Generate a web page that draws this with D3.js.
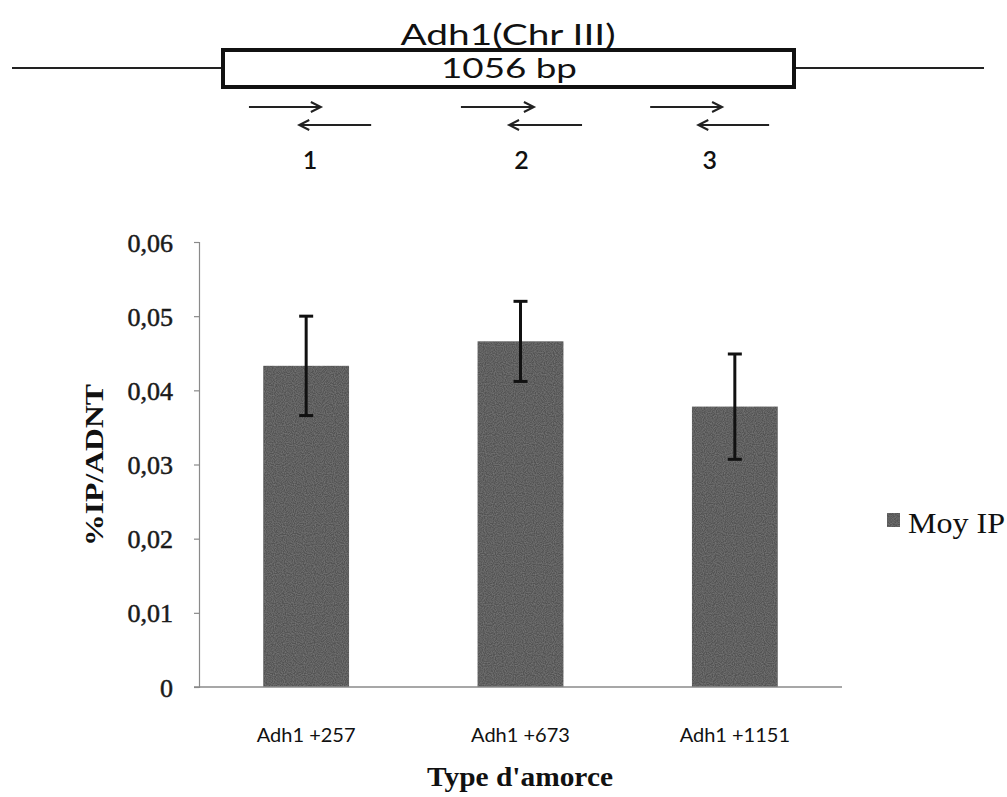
<!DOCTYPE html>
<html>
<head>
<meta charset="utf-8">
<script src="https://cdn.jsdelivr.net/npm/d3@7"></script>
<style>
  html, body { margin: 0; padding: 0; background: #fff; }
  svg { display: block; }
</style>
</head>
<body>
<svg id="chart" width="1007" height="797"></svg>
<script>
// ---- data ----
const categories = ["Adh1 +257", "Adh1 +673", "Adh1 +1151"];
const meanIP = [0.0433, 0.0466, 0.0378];
const errIP = [0.0067, 0.0054, 0.0071];
const yTicks = [0, 0.01, 0.02, 0.03, 0.04, 0.05, 0.06];
const yTickLabels = ["0", "0,01", "0,02", "0,03", "0,04", "0,05", "0,06"];
const seriesName = "Moy IP";
const yTitle = "%IP/ADNT";
const xTitle = "Type d'amorce";
// gene diagram (positions in bp along the gene)
const geneName = "Adh1(Chr III)";
const geneLength = 1056;
const geneLabel = "1056 bp";
const primerLabels = ["1", "2", "3"];
const fwdStart = [48, 440, 790];
const fwdEnd = [181, 575, 923];
const revStart = [141, 529, 879];
const revEnd = [274, 664, 1010];

const svg = d3.select("#chart");
const serif = "'Liberation Serif', 'Times New Roman', serif";
const sans = "Lato, 'Open Sans', sans-serif";
const barColor = "#525252";

// speckled texture like the scanned bars
const defs = svg.append("defs");
const f = defs.append("filter").attr("id", "speckle").attr("x", 0).attr("y", 0).attr("width", 1).attr("height", 1);
f.append("feTurbulence").attr("type", "fractalNoise").attr("baseFrequency", 0.9).attr("numOctaves", 1).attr("seed", 3).attr("result", "noise");
f.append("feColorMatrix").attr("in", "noise").attr("type", "matrix")
  .attr("values", "0 0 0 0 0.2  0 0 0 0 0.2  0 0 0 0 0.2  0 0 0 -1.6 1.1").attr("result", "dark");
f.append("feComposite").attr("in", "dark").attr("in2", "SourceGraphic").attr("operator", "in").attr("result", "darkIn");
f.append("feMerge").selectAll("feMergeNode").data(["SourceGraphic", "darkIn"]).join("feMergeNode").attr("in", d => d);

// ---- gene diagram ----
const gx = d3.scaleLinear().domain([0, geneLength]).range([223, 794]);
const diagram = svg.append("g");
diagram.append("line").attr("x1", 12).attr("x2", gx(0)).attr("y1", 68).attr("y2", 68)
  .attr("stroke", "#222").attr("stroke-width", 2);
diagram.append("line").attr("x1", gx(geneLength)).attr("x2", 984).attr("y1", 68).attr("y2", 68)
  .attr("stroke", "#222").attr("stroke-width", 2);
diagram.append("rect").attr("x", gx(0)).attr("y", 50).attr("width", gx(geneLength) - gx(0)).attr("height", 37)
  .attr("fill", "#fff").attr("stroke", "#111").attr("stroke-width", 4);
diagram.append("text").attr("x", 508).attr("y", 45).attr("text-anchor", "middle")
  .attr("font-family", sans).attr("font-size", 29).attr("fill", "#111")
  .attr("textLength", 215).attr("lengthAdjust", "spacingAndGlyphs").text(geneName);
diagram.append("text").attr("x", 509).attr("y", 78).attr("text-anchor", "middle")
  .attr("font-family", sans).attr("font-size", 27).attr("fill", "#111")
  .attr("textLength", 136).attr("lengthAdjust", "spacingAndGlyphs").text(geneLabel);

function arrow(x1, x2, yy) {
  const dir = x2 > x1 ? 1 : -1;
  diagram.append("line").attr("x1", x1).attr("x2", x2).attr("y1", yy).attr("y2", yy)
    .attr("stroke", "#222").attr("stroke-width", 2);
  diagram.append("path")
    .attr("d", `M${x2 - dir * 10},${yy - 5} L${x2},${yy} L${x2 - dir * 10},${yy + 5}`)
    .attr("fill", "none").attr("stroke", "#222").attr("stroke-width", 2);
}
primerLabels.forEach((lab, i) => {
  arrow(gx(fwdStart[i]), gx(fwdEnd[i]), 107);
  arrow(gx(revEnd[i]), gx(revStart[i]), 125);
  diagram.append("text").attr("x", (gx(fwdStart[i]) + gx(revEnd[i])) / 2).attr("y", 169)
    .attr("text-anchor", "middle").attr("font-family", sans).attr("font-size", 25)
    .attr("font-weight", 600).attr("fill", "#111").text(lab);
});

// ---- bar chart ----
const x = d3.scaleBand().domain(categories).range([199, 842]).paddingInner(0.6).paddingOuter(0.3);
const y = d3.scaleLinear().domain([0, 0.06]).range([687, 242]);

const chart = svg.append("g");
// y axis
const yAxis = chart.append("g").attr("transform", "translate(199,0)")
  .call(d3.axisLeft(y).tickValues(yTicks).tickSize(5).tickPadding(21)
    .tickFormat((d, i) => yTickLabels[i]));
yAxis.select(".domain").attr("stroke", "#8a8a8a").attr("stroke-width", 1.2);
yAxis.selectAll(".tick line").attr("stroke", "#8a8a8a").attr("stroke-width", 1.2);
yAxis.selectAll(".tick text").attr("font-family", serif).attr("font-size", 26)
  .attr("fill", "#1a1a1a").attr("stroke", "#1a1a1a").attr("stroke-width", 0.5).attr("dy", "0.35em");

// bars
chart.selectAll("rect.bar").data(categories).join("rect").attr("class", "bar")
  .attr("x", d => x(d)).attr("width", x.bandwidth())
  .attr("y", (d, i) => y(meanIP[i])).attr("height", (d, i) => y(0) - y(meanIP[i]))
  .attr("fill", barColor).attr("filter", "url(#speckle)");

// x axis line
chart.append("line").attr("x1", 194).attr("x2", 842).attr("y1", y(0)).attr("y2", y(0))
  .attr("stroke", "#8a8a8a").attr("stroke-width", 1.5);

// error bars
const eb = chart.selectAll("g.err").data(categories).join("g").attr("class", "err");
eb.append("line")
  .attr("x1", d => x(d) + x.bandwidth() / 2).attr("x2", d => x(d) + x.bandwidth() / 2)
  .attr("y1", (d, i) => y(meanIP[i] + errIP[i])).attr("y2", (d, i) => y(meanIP[i] - errIP[i]))
  .attr("stroke", "#111").attr("stroke-width", 3);
[1, -1].forEach(s => {
  eb.append("line")
    .attr("x1", d => x(d) + x.bandwidth() / 2 - 7).attr("x2", d => x(d) + x.bandwidth() / 2 + 7)
    .attr("y1", (d, i) => y(meanIP[i] + s * errIP[i])).attr("y2", (d, i) => y(meanIP[i] + s * errIP[i]))
    .attr("stroke", "#111").attr("stroke-width", 3);
});

// category labels
chart.selectAll("text.cat").data(categories).join("text").attr("class", "cat")
  .attr("x", d => x(d) + x.bandwidth() / 2).attr("y", 742).attr("text-anchor", "middle")
  .attr("font-family", sans).attr("font-size", 20).attr("fill", "#111").text(d => d);

// axis titles
chart.append("text").attr("x", 520).attr("y", 786).attr("text-anchor", "middle")
  .attr("font-family", serif).attr("font-weight", "bold").attr("font-size", 28)
  .attr("textLength", 186).attr("lengthAdjust", "spacingAndGlyphs")
  .attr("fill", "#111").text(xTitle);
chart.append("text").attr("transform", "translate(103,465) rotate(-90)").attr("text-anchor", "middle")
  .attr("font-family", serif).attr("font-weight", "bold").attr("font-size", 26)
  .attr("textLength", 162).attr("lengthAdjust", "spacingAndGlyphs")
  .attr("fill", "#111").text(yTitle);

// legend
chart.append("rect").attr("x", 887).attr("y", 513).attr("width", 13).attr("height", 14)
  .attr("fill", barColor).attr("filter", "url(#speckle)");
chart.append("text").attr("x", 908).attr("y", 533).attr("font-family", serif).attr("font-size", 29)
  .attr("textLength", 97).attr("lengthAdjust", "spacingAndGlyphs")
  .attr("fill", "#111").text(seriesName);
</script>
</body>
</html>
